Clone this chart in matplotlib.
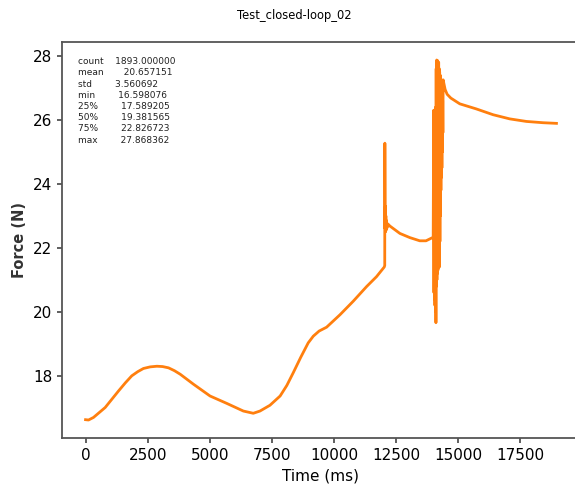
import matplotlib
matplotlib.use("Agg")
import matplotlib.pyplot as plt

# force trace of the closed-loop test (time in ms, force in N)
time_ms = [0, 120, 320, 790, 1330, 1600, 1860, 2100, 2330, 2600, 2870, 3100,
           3340, 3580, 3810, 4340, 5010, 5680, 6350, 6750, 7020, 7420, 7830,
           8100, 8360, 8660, 8960, 9165, 9400, 9700, 10240, 10770, 11310,
           11710, 12020, 12040,
           12045, 12055, 12065, 12075, 12085, 12095, 12110, 12130, 12160,
           12250, 12650, 13050, 13450, 13700, 13990,
           14010, 14020, 14030, 14040, 14050, 14060, 14070, 14080, 14090,
           14100, 14110, 14120, 14130, 14140, 14150, 14160, 14170, 14180,
           14190, 14200, 14210, 14220, 14230, 14240, 14250, 14260, 14270,
           14280, 14290, 14300, 14310, 14320, 14330, 14340, 14350, 14360,
           14370, 14380, 14390,
           14470, 14550, 14700, 15060, 15730, 16400, 17070, 17740, 18410, 18950]
force_n = [16.63, 16.62, 16.70, 17.01, 17.53, 17.78, 18.00, 18.13, 18.23, 18.28,
           18.30, 18.29, 18.25, 18.16, 18.05, 17.74, 17.37, 17.14, 16.90, 16.83,
           16.90, 17.08, 17.37, 17.70, 18.10, 18.58, 19.03, 19.24, 19.40, 19.52,
           19.91, 20.33, 20.79, 21.10, 21.40, 21.45,
           25.27, 22.60, 23.30, 22.50, 23.00, 22.55, 22.85, 22.62, 22.75,
           22.68, 22.45, 22.32, 22.22, 22.22, 22.33,
           26.30, 20.60, 26.20, 20.40, 26.30, 20.20, 26.10, 20.00, 26.40,
           19.66, 27.60, 20.80, 27.87, 21.00, 27.80, 21.20, 27.85, 21.30,
           27.70, 21.50, 27.80, 21.60, 27.60, 21.40, 27.50, 22.20, 27.40,
           23.00, 27.30, 23.80, 27.20, 24.20, 27.00, 24.50, 26.80, 25.00,
           26.60, 25.60, 27.25,
           26.95, 26.80, 26.68, 26.50, 26.34, 26.16, 26.03, 25.95, 25.91, 25.89]

stat_names = ["count", "mean", "std", "min", "25%", "50%", "75%", "max"]
stat_values = ["1893.000000", "20.657151", "3.560692", "16.598076",
               "17.589205", "19.381565", "22.826723", "27.868362"]
stat_gaps = [4, 7, 8, 8, 8, 8, 8, 8]

fig = plt.figure(figsize=(5.75, 4.99), dpi=100)
ax = fig.add_axes([62 / 575, 61 / 499, 518 / 575, 396 / 499])

ax.plot(time_ms, force_n, color="#ff7f0e", linewidth=2)

stats_text = "\n".join(n + " " * g + v for n, g, v in zip(stat_names, stat_gaps, stat_values))
ax.text(0.031, 0.962, stats_text, transform=ax.transAxes, fontsize=6.5,
        va="top", ha="left", linespacing=1.32, color="#222222")

ax.set_xticks(range(0, 17501, 2500))
ax.set_yticks(range(18, 29, 2))
ax.tick_params(labelsize=11, width=1.2, color="#444444")
for side in ["left", "bottom", "top", "right"]:
    ax.spines[side].set_color("#555555")
    ax.spines[side].set_linewidth(1.3)

ax.set_xlabel("Time (ms)", fontsize=11)
ax.set_ylabel("Force (N)", fontsize=10.5, fontweight="bold", color="#333333")
fig.text(294 / 575, 1 - 16 / 499, "Test_closed-loop_02", fontsize=8.3,
         ha="center", va="center")

fig.savefig("out.png", dpi=100)
